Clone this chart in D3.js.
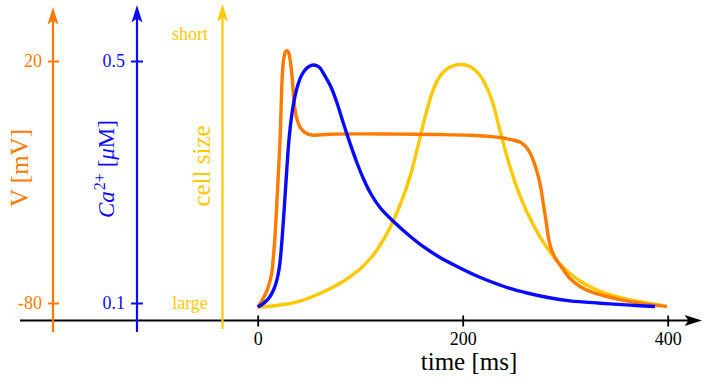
<!DOCTYPE html>
<html><head><meta charset="utf-8">
<script src="https://cdn.jsdelivr.net/npm/d3@7"></script>
<style>html,body{margin:0;padding:0;background:#fff;} svg{display:block;}</style>
</head><body>
<svg id="chart" width="703" height="380"></svg>
<script>
// ---- data ----
const timeTicks = [0, 200, 400];
const voltageTicks = [-80, 20];
const calciumTicks = [0.1, 0.5];
const sizeLabels = ["large", "short"];
const sizeLabelValues = [0, 1];

// membrane potential (mV) over time (ms)
const voltageTime  = [0, 3.2, 6.1, 9.1, 11.5, 13.7, 15.2, 16.6, 17.7, 18.6, 20.1, 21.8, 22.9, 24.0, 25.0, 26.0, 27.1, 28.6, 30.0, 31.5, 33.0, 34.1, 35.7, 38.0, 41.3, 46.1, 52.7, 70.5, 99.8, 138.8, 177.9, 207.1, 226.6, 236.4, 246.1, 255.9, 261.8, 265.7, 269.6, 273.8, 276.4, 278.6, 281.3, 283.5, 285.7, 288.1, 291.7, 295.9, 299.8, 304.7, 314.4, 326.1, 336.9, 353.5, 370.1, 384.7, 399.3];
const voltageValue = [-81.65, -79.8, -77.5, -74.8, -71.7, -67.6, -61.4, -54.0, -46.5, -39.5, -27.1, -12.6, 1.8, 14.2, 19.6, 22.3, 23.9, 24.3, 23.7, 20.8, 15.9, 10.5, 2.2, -3.6, -7.3, -9.55, -10.6, -10.25, -10.1, -10.2, -10.4, -10.7, -11.2, -11.6, -12.4, -13.5, -15.5, -18.0, -21.9, -27.8, -32.9, -38.8, -46.1, -52.6, -56.7, -59.5, -62.4, -64.9, -67.2, -69.9, -73.2, -75.5, -76.9, -78.6, -79.9, -80.8, -81.45];

// cytosolic calcium (µM) over time (ms)
const calciumTime  = [0, 4.2, 8.8, 12.0, 15.2, 17.9, 20.1, 21.8, 23.4, 24.7, 26.0, 28.1, 30.5, 33.5, 36.4, 39.8, 43.2, 47.1, 51.0, 54.9, 59.8, 65.7, 71.5, 77.4, 83.2, 90.0, 96.9, 103.7, 110.5, 119.3, 132.0, 146.6, 161.3, 177.9, 197.4, 215.0, 229.6, 246.1, 262.7, 283.2, 304.7, 334.0, 363.2, 387.6];
const calciumValue = [0.0934, 0.0975, 0.1041, 0.1107, 0.1207, 0.1331, 0.1488, 0.1678, 0.1975, 0.2273, 0.2587, 0.3132, 0.3694, 0.4140, 0.4421, 0.4636, 0.4777, 0.4868, 0.4917, 0.4934, 0.4901, 0.4752, 0.4570, 0.4306, 0.3992, 0.3645, 0.3314, 0.3033, 0.2802, 0.2579, 0.2355, 0.2132, 0.1934, 0.1752, 0.1579, 0.1438, 0.1339, 0.1240, 0.1165, 0.1091, 0.1036, 0.0997, 0.0964, 0.0942];

// relative cell shortening (0 = large, 1 = short) over time (ms)
const sizeTime  = [0, 12.0, 26.6, 41.3, 60.8, 80.3, 90.0, 99.8, 109.6, 119.3, 129.1, 138.8, 148.6, 156.4, 163.2, 170.0, 174.9, 179.8, 184.7, 190.5, 198.3, 207.1, 216.9, 223.7, 229.6, 234.4, 239.3, 244.2, 249.1, 255.9, 262.7, 270.5, 278.3, 287.1, 294.9, 304.7, 314.4, 324.2, 334.0, 348.6, 363.2, 377.9, 395.0];
const sizeValue = [-0.0149, -0.0119, -0.0048, 0.0074, 0.0353, 0.0732, 0.0978, 0.1264, 0.1636, 0.2138, 0.2799, 0.3636, 0.4695, 0.5840, 0.6907, 0.7792, 0.8238, 0.8528, 0.8703, 0.8814, 0.8866, 0.8792, 0.8457, 0.7996, 0.7394, 0.6706, 0.5981, 0.5312, 0.4708, 0.3980, 0.3381, 0.2794, 0.2281, 0.1796, 0.1446, 0.1097, 0.0818, 0.0602, 0.0435, 0.0253, 0.0119, 0.0015, -0.0093];

const colors = { v: "#ff7a00", ca: "#0a0aff", size: "#ffc800", axis: "#000" };
const FONT = "'Liberation Serif', 'Times New Roman', serif";

const svg = d3.select("#chart");

const x = d3.scaleLinear().domain([0, 400]).range([257.7, 667.7]);
const yV = d3.scaleLinear().domain([-80, 20]).range([303, 61]);
const yCa = d3.scaleLinear().domain([0.1, 0.5]).range([303, 61]);
const ySize = d3.scaleLinear().domain([0, 1]).range([303, 34]);

const baseY = 320.5;        // time axis line
const axisX = { v: 53, ca: 137, size: 222.5 };

// stealth-style arrow head pointing up, tip at origin
const arrowPath = "M0,0 L-5.5,17.5 L0,13.5 L5.5,17.5 Z";
function arrowHead(px, py, angle, color) {
  svg.append("path")
    .attr("d", arrowPath)
    .attr("fill", color)
    .attr("transform", `translate(${px},${py}) rotate(${angle})`);
}

// ---- time axis ----
svg.append("line")
  .attr("x1", 20).attr("x2", 690).attr("y1", baseY).attr("y2", baseY)
  .attr("stroke", colors.axis).attr("stroke-width", 2);
arrowHead(702, baseY, 90, colors.axis);

const gx = svg.append("g")
  .attr("transform", `translate(0,${baseY})`)
  .style("color", colors.axis)
  .call(d3.axisBottom(x).tickValues(timeTicks).tickSize(6).tickPadding(6).tickFormat(d => String(d)));
gx.select(".domain").remove();
gx.selectAll(".tick line").attr("y1", -5).attr("stroke-width", 1.8);
gx.selectAll(".tick text").attr("font-family", FONT).attr("font-size", 18);

svg.append("text")
  .attr("x", 469).attr("y", 370)
  .attr("text-anchor", "middle")
  .attr("font-family", FONT).attr("font-size", 25)
  .attr("fill", colors.axis)
  .text("time [ms]");

// ---- vertical axes ----
function verticalAxis(px, top, bottom, color) {
  svg.append("line")
    .attr("x1", px).attr("x2", px).attr("y1", top + 12).attr("y2", bottom)
    .attr("stroke", color).attr("stroke-width", 2.2);
  arrowHead(px, top, 0, color);
}
verticalAxis(axisX.v, 7, 332, colors.v);
verticalAxis(axisX.ca, 5, 332, colors.ca);
verticalAxis(axisX.size, 4, 329, colors.size);

const gv = svg.append("g")
  .attr("transform", `translate(${axisX.v},0)`)
  .style("color", colors.v)
  .call(d3.axisLeft(yV).tickValues(voltageTicks).tickSize(5).tickPadding(6).tickFormat(d => String(d)));
gv.select(".domain").remove();
gv.selectAll(".tick line").attr("x1", 6).attr("stroke-width", 2);
gv.selectAll(".tick text").attr("font-family", FONT).attr("font-size", 18);

const gca = svg.append("g")
  .attr("transform", `translate(${axisX.ca},0)`)
  .style("color", colors.ca)
  .call(d3.axisLeft(yCa).tickValues(calciumTicks).tickSize(6).tickPadding(6).tickFormat(d3.format(".1f")));
gca.select(".domain").remove();
gca.selectAll(".tick line").attr("x1", 6).attr("stroke-width", 2);
gca.selectAll(".tick text").attr("font-family", FONT).attr("font-size", 18);

svg.append("g").selectAll("text")
  .data(sizeLabelValues)
  .join("text")
  .attr("x", 190)
  .attr("y", d => ySize(d))
  .attr("dy", "0.35em")
  .attr("text-anchor", "middle")
  .attr("font-family", FONT).attr("font-size", 18)
  .attr("fill", colors.size)
  .text((d, i) => sizeLabels[i]);

// ---- axis titles ----
svg.append("text")
  .attr("transform", "translate(28,168) rotate(-90)")
  .attr("text-anchor", "middle")
  .attr("font-family", FONT).attr("font-size", 25)
  .attr("fill", colors.v)
  .text("V [mV]");

const caTitle = svg.append("text")
  .attr("transform", "translate(113.5,169) rotate(-90)")
  .attr("text-anchor", "middle")
  .attr("font-family", FONT).attr("font-size", 23)
  .attr("fill", colors.ca);
caTitle.append("tspan").attr("font-style", "italic").text("Ca");
caTitle.append("tspan").attr("font-size", 16).attr("dy", -9).attr("dx", 1).text("2+");
caTitle.append("tspan").attr("dy", 9).text("\u00a0[");
caTitle.append("tspan").attr("font-style", "italic").text("\u03bc");
caTitle.append("tspan").text("M]");

svg.append("text")
  .attr("transform", "translate(210,166) rotate(-90)")
  .attr("text-anchor", "middle")
  .attr("font-family", FONT).attr("font-size", 25)
  .attr("fill", colors.size)
  .text("cell size");

// ---- traces ----
function trace(times, values, yScale, color) {
  const line = d3.line()
    .x(d => x(d[0]))
    .y(d => yScale(d[1]))
    .curve(d3.curveCatmullRom.alpha(0.5));
  svg.append("path")
    .datum(d3.zip(times, values))
    .attr("d", line)
    .attr("fill", "none")
    .attr("stroke", color)
    .attr("stroke-width", 3.4)
    .attr("stroke-linejoin", "round");
}
trace(sizeTime, sizeValue, ySize, colors.size);
trace(voltageTime, voltageValue, yV, colors.v);
trace(calciumTime, calciumValue, yCa, colors.ca);
</script>
</body></html>
